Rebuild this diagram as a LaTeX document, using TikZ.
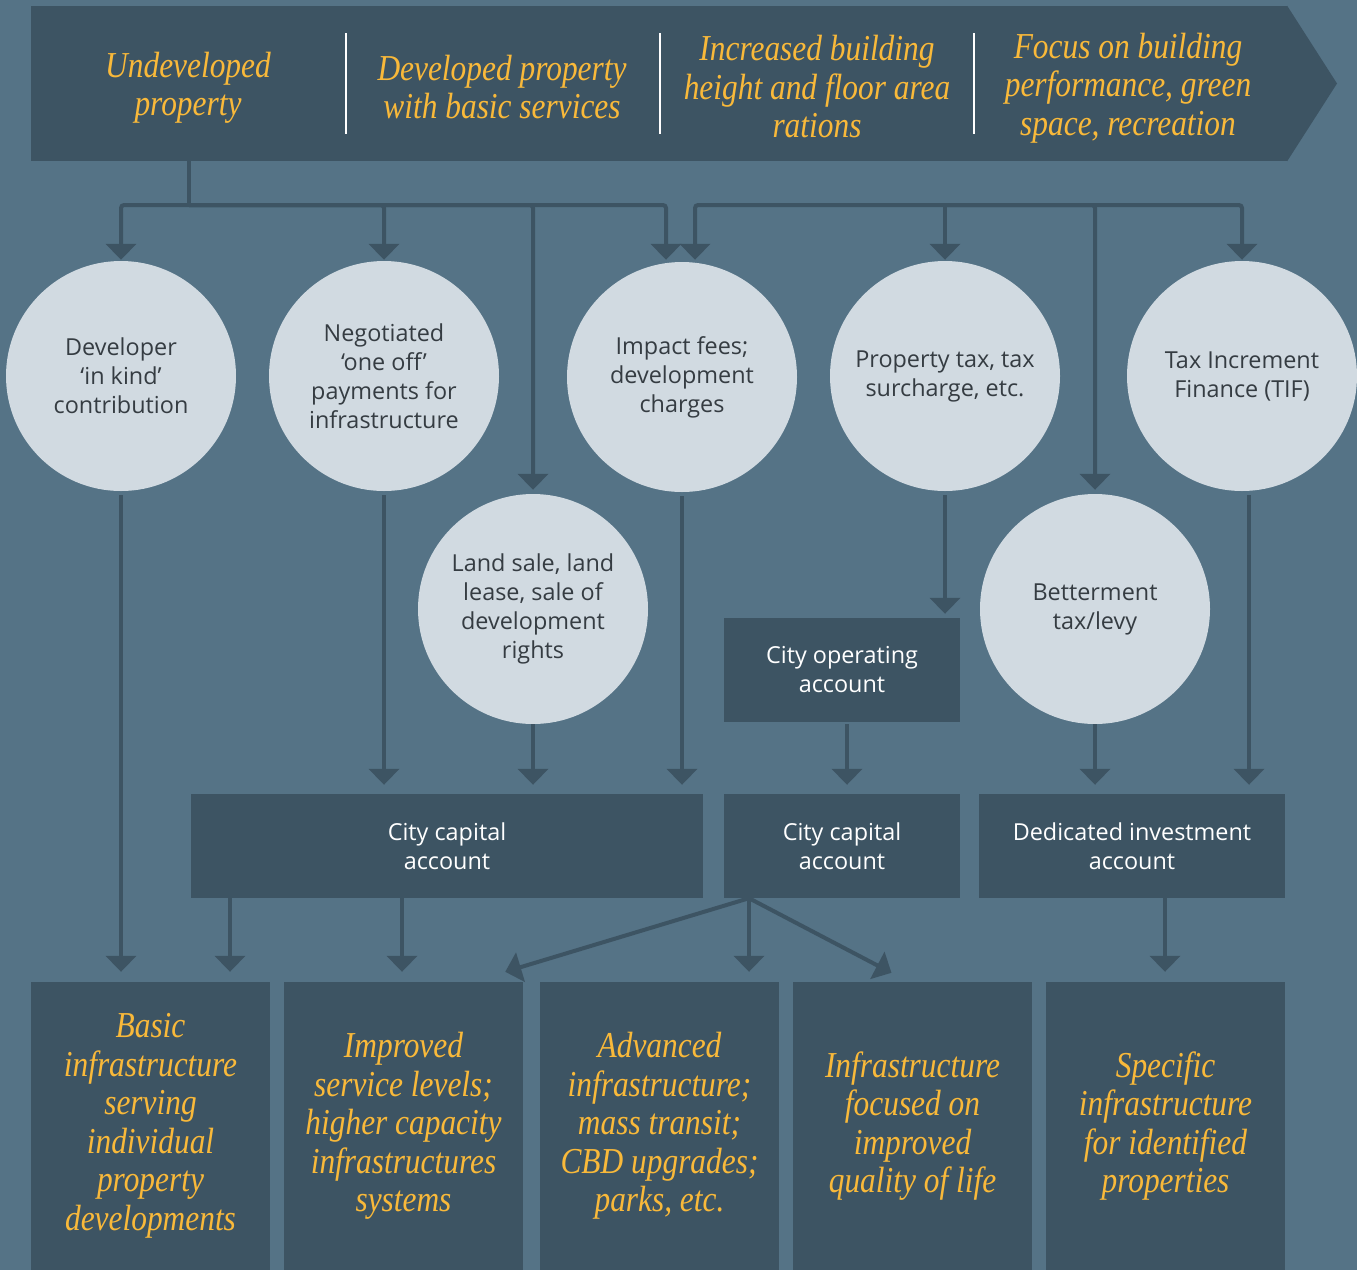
\documentclass[tikz,border=0pt]{standalone}
\usepackage{fontspec}
\setmainfont{Open Sans}
\newfontfamily\stagefont[FakeStretch=0.86]{Liberation Serif}
\usetikzlibrary{arrows.meta}
\definecolor{bgblue}{HTML}{557386}
\definecolor{slate}{HTML}{3D5463}
\definecolor{disc}{HTML}{D1DAE1}
\definecolor{gold}{HTML}{F9B93A}
\definecolor{ink}{HTML}{353C42}
\tikzset{
  stage/.style={text=gold, align=center, inner sep=0pt, font=\stagefont\itshape\fontsize{36.5}{38.5}\selectfont},
  source/.style={circle, fill=disc, text=ink, minimum size=230pt, inner sep=0pt, align=center, font=\fontsize{23.4}{29}\selectfont},
  account/.style={rectangle, fill=slate, text=white, inner sep=0pt, align=center, minimum height=104pt, font=\fontsize{23.4}{29}\selectfont},
  outcome/.style={rectangle, fill=slate, inner sep=0pt, minimum width=239pt, minimum height=288pt, stage},
  link/.style={draw=slate, line width=4pt},
  flow/.style={link, -{Triangle[width=30pt,length=16pt]}},
}
\begin{document}
\begin{tikzpicture}[x=1pt, y=-1pt]
    \useasboundingbox (0,0) rectangle (1357,1270);
    \fill[bgblue] (0,0) rectangle (1357,1270);
    % banner
    \node[fill=slate, minimum width=1256pt, minimum height=155pt, inner sep=0pt] (banner) at (659,83.5) {};
    \fill[slate] (banner.north east) -- (1337,83.5) -- (banner.south east) -- cycle;
    \foreach \x in {346,660,974}
        \draw[white, line width=1.5pt] (\x,33) -- (\x,134);
    \node[stage] (t1) at (188,88) {Undeveloped\\property};
    \node[stage] (t2) at (502,87) {Developed property\\with basic services};
    \node[stage] (t3) at (817,87) {Increased building\\height and floor area\\rations};
    \node[stage] (t4) at (1128,88) {Focus on building\\performance, green\\space, recreation};
    % sources
    \node[source] (dev) at (121,376) {Developer\\‘in kind’\\contribution};
    \node[source] (neg) at (384,376) {Negotiated\\‘one off’\\payments for\\infrastructure};
    \node[source] (impact) at (682,377) {Impact fees;\\development\\charges};
    \node[source] (prop) at (945,376) {Property tax, tax\\surcharge, etc.};
    \node[source] (tif) at (1242,376) {Tax Increment\\Finance (TIF)};
    \node[source] (land) at (533,609) {Land sale, land\\lease, sale of\\development\\rights};
    \node[source] (better) at (1095,609) {Betterment\\tax/levy};
    % accounts
    \node[account, minimum width=236pt] (oper) at (842,670) {City operating\\account};
    \node[account, minimum width=512pt] (cap1) at (447,846) {City capital\\account};
    \node[account, minimum width=236pt] (cap2) at (842,846) {City capital\\account};
    \node[account, minimum width=306pt] (ded) at (1132,846) {Dedicated investment\\account};
    % outcomes
    \node[outcome] (basic) at (150.5,1126) {Basic\\infrastructure\\serving\\individual\\property\\developments};
    \node[outcome] (improved) at (403.5,1126) {Improved\\service levels;\\higher capacity\\infrastructures\\systems};
    \node[outcome] (advanced) at (659.5,1126) {Advanced\\infrastructure;\\mass transit;\\CBD upgrades;\\parks, etc.};
    \node[outcome] (quality) at (912.5,1126) {Infrastructure\\focused on\\improved\\quality of life};
    \node[outcome] (specific) at (1165.5,1126) {Specific\\infrastructure\\for identified\\properties};
    % top branches
    \coordinate (lhub) at (189,205);
    \coordinate (rhub) at (945,205);
    \draw[link] (banner.south -| lhub) -- (lhub);
    \draw[flow, rounded corners=3pt, shorten >=1pt] (lhub) -| (dev.north);
    \draw[flow, rounded corners=3pt, shorten >=1pt] (lhub) -| (neg.north);
    \draw[flow, rounded corners=3pt, shorten >=4pt] (lhub) -| (land.north);
    \draw[flow, rounded corners=3pt, shorten >=2pt] (lhub) -| ([xshift=-16pt]impact.north);
    \draw[flow, rounded corners=3pt, shorten >=2pt] (rhub) -| ([xshift=13pt]impact.north);
    \draw[flow, shorten >=1pt] (rhub) -- (prop.north);
    \draw[flow, rounded corners=3pt, shorten >=4pt] (rhub) -| (better.north);
    \draw[flow, rounded corners=3pt, shorten >=1pt] (rhub) -| (tif.north);
    % into the accounts
    \coordinate (tiffoot) at ([xshift=7pt]tif.south);
    \coordinate (operin) at ([xshift=5pt]oper.south);
    \draw[flow, shorten <=4pt, shorten >=10pt] (dev.south) -- (dev.south |- basic.north);
    \draw[flow, shorten <=4pt, shorten >=9pt] (neg.south) -- (neg.south |- cap1.north);
    \draw[flow, shorten >=9pt] (land.south) -- (land.south |- cap1.north);
    \draw[flow, shorten <=4pt, shorten >=9pt] (impact.south) -- (impact.south |- cap1.north);
    \draw[flow, shorten <=4pt, shorten >=4pt] (prop.south) -- (prop.south |- oper.north);
    \draw[flow, shorten <=2pt, shorten >=9pt] (operin) -- (operin |- cap2.north);
    \draw[flow, shorten >=9pt] (better.south) -- (better.south |- ded.north);
    \draw[flow, shorten <=4pt, shorten >=9pt] (tiffoot) -- (tiffoot |- ded.north);
    % into the outcomes
    \coordinate (c1a) at ([xshift=-217pt]cap1.south);
    \coordinate (c1b) at ([xshift=-45pt]cap1.south);
    \coordinate (c2) at ([xshift=-93pt]cap2.south);
    \coordinate (d1) at ([xshift=33pt]ded.south);
    \draw[flow, shorten >=10pt] (c1a) -- (c1a |- basic.north);
    \draw[flow, shorten >=10pt] (c1b) -- (c1b |- improved.north);
    \draw[flow] (c2) -- ([xshift=-18pt, yshift=10pt]improved.north east);
    \draw[flow, shorten >=10pt] (c2) -- (c2 |- advanced.north);
    \draw[flow] (c2) -- ([xshift=-21pt, yshift=9pt]quality.north);
    \draw[flow, shorten >=10pt] (d1) -- (d1 |- specific.north);
\end{tikzpicture}
\end{document}
